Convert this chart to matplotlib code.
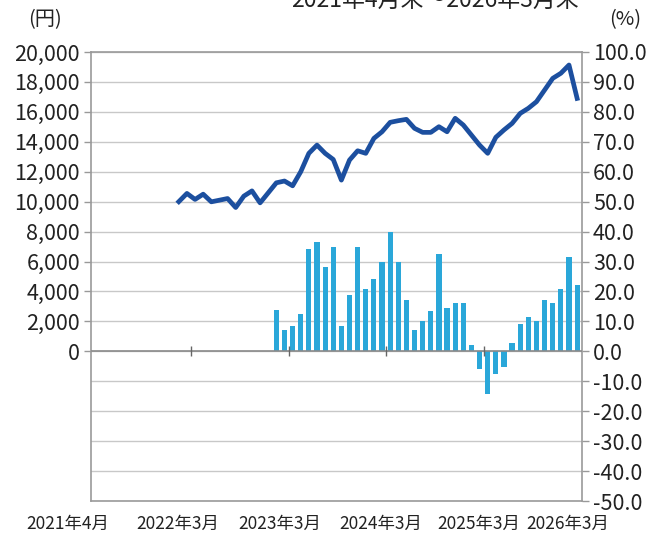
import matplotlib
matplotlib.use("Agg")
import matplotlib.pyplot as plt
import matplotlib.transforms as mtransforms
import numpy as np

plt.rcParams['font.family'] = ['Noto Sans CJK JP', 'DejaVu Sans']

# 2021年4月 .. 2026年3月 (60 months), index 0 = 2021年4月
months = np.arange(60)

# price (円), starts 2022年2月
price_start = 10
price = [10000, 10550, 10150, 10500, 9990, 10100, 10210, 9610, 10370, 10720,
         9920, 10590, 11260, 11380, 11060, 12000, 13230, 13780, 13230, 12820,
         11440, 12780, 13400, 13230, 14230, 14670, 15300, 15410, 15500, 14900,
         14630, 14630, 15010, 14670, 15570, 15120, 14450, 13780, 13230, 14300,
         14790, 15230, 15900, 16240, 16680, 17460, 18240, 18580, 19130, 16900]

# change (%), starts 2023年2月
change_start = 22
change = [13.7, 7.2, 8.6, 12.6, 34.3, 36.6, 28.1, 34.8, 8.3, 18.7,
          35.0, 20.9, 24.2, 29.8, 39.8, 29.8, 17.3, 7.2, 10.0, 13.4,
          32.6, 14.6, 16.1, 16.1, 2.0, -5.8, -14.3, -7.7, -5.2, 2.8,
          9.2, 11.4, 10.1, 17.0, 16.1, 20.9, 31.4, 22.0]

xtick_pos = [-3.7, 9.9, 22.4, 34.8, 46.9, 57.8]
xtick_labels = ["2021年4月", "2022年3月", "2023年3月", "2024年3月", "2025年3月", "2026年3月"]
year_marks = [11.5, 23.5, 35.5, 47.5]

fig = plt.figure(figsize=(6.54, 5.34), dpi=100)
ax = fig.add_axes([91 / 654, 33 / 534, 491 / 654, 449 / 534])
ax2 = ax.twinx()

grid_col = "#c8c8c8"
bar_col = "#2aa7d9"
line_col = "#1c4f9f"
txt_col = "#222222"

# percent axis (right) with bars
x_bar = months[change_start:change_start + len(change)]
ax.bar(x_bar, change, width=0.64, color=bar_col, zorder=2)
ax.set_ylim(-50, 100)
ax.set_yticks(np.arange(-50, 101, 10))
ax.set_yticklabels([f"{v:.1f}" for v in np.arange(-50, 101, 10)])
ax.yaxis.tick_right()
ax.grid(axis='y', color=grid_col, linewidth=1.0, zorder=0)
ax.axhline(0, color="#8a8a8a", linewidth=1.2, zorder=3)
ax.plot(year_marks, [0] * len(year_marks), linestyle='none', marker='|',
        markersize=7, markeredgewidth=1.0, color="#666666", zorder=3)
ax.tick_params(axis='y', length=5, width=1, color="#999999", pad=3,
               labelsize=15.5, labelcolor=txt_col)
for s in ax.spines.values():
    s.set_color("#9a9a9a")
    s.set_linewidth(1.2)

# yen axis (left) with line
x_line = months[price_start:price_start + len(price)]
ax2.plot(x_line, price, color=line_col, linewidth=3.4, solid_joinstyle='round', zorder=4)
ax2.set_ylim(-10000, 20000)
ax2.set_yticks(np.arange(0, 20001, 2000))
ax2.set_yticklabels([f"{v:,}" for v in range(0, 20001, 2000)])
ax2.yaxis.tick_left()
ax2.tick_params(axis='y', length=5, width=1, color="#999999", pad=3,
                labelsize=15.5, labelcolor=txt_col)
for s in ax2.spines.values():
    s.set_visible(False)

# x axis set after plotting so autoscaling does not move it
ax.set_xlim(-0.8, 59.6)
ax.set_xticks([])
trans = mtransforms.blended_transform_factory(ax.transData, ax.transAxes)
for xp, lab in zip(xtick_pos, xtick_labels):
    ax.text(xp, -0.03, lab, transform=trans, ha='center', va='top',
            fontsize=12.5, color=txt_col, clip_on=False)

fig.text(45 / 654, 1 - 20 / 534, "(円)", ha='center', va='center', fontsize=14.5, color=txt_col)
fig.text(625 / 654, 1 - 20 / 534, "(%)", ha='center', va='center', fontsize=14.5, color=txt_col)
fig.text(435 / 654, 1.0, "2021年4月末～2026年3月末", ha='center', va='center',
         fontsize=16.5, color=txt_col)

fig.savefig("out.png", dpi=100, facecolor="white")
